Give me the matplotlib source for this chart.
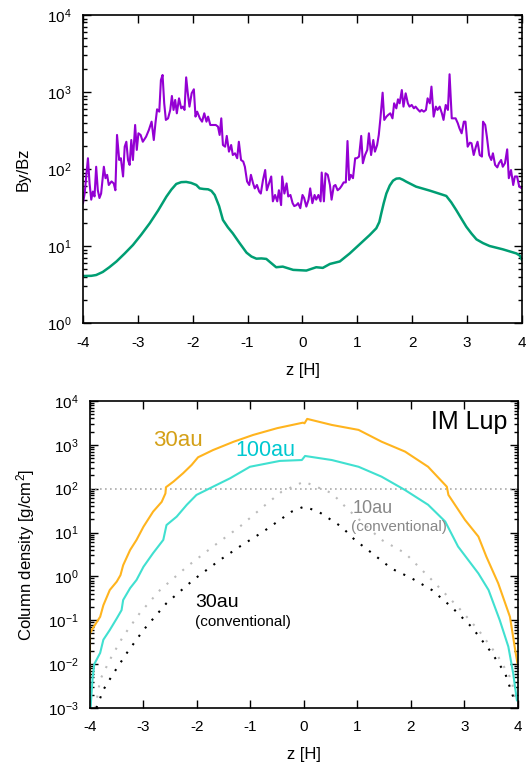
import numpy as np
import matplotlib
matplotlib.use("Agg")
import matplotlib.pyplot as plt
from matplotlib.ticker import LogLocator, FixedLocator, FuncFormatter, NullFormatter

plt.rcParams["font.family"] = ["Liberation Sans", "DejaVu Sans"]
plt.rcParams["mathtext.fontset"] = "custom"
plt.rcParams["mathtext.rm"] = "Liberation Sans"
plt.rcParams["mathtext.it"] = "Liberation Sans"
plt.rcParams["axes.unicode_minus"] = False

# top panel: By/Bz
z_by = [-4.00, -3.97, -3.94, -3.91, -3.88, -3.85, -3.82, -3.79, -3.76, -3.73, -3.70, -3.67,
        -3.62, -3.59, -3.56, -3.53, -3.48, -3.44, -3.41, -3.38, -3.34, -3.31, -3.27, -3.24,
        -3.21, -3.18, -3.15, -3.12, -3.09, -3.05, -3.02, -2.99, -2.95, -2.91, -2.85, -2.80,
        -2.75, -2.71, -2.68, -2.65, -2.61, -2.58, -2.55, -2.52, -2.49, -2.45, -2.41, -2.38,
        -2.35, -2.32, -2.29, -2.25, -2.21, -2.18, -2.15, -2.12, -2.09, -2.06, -2.02, -1.98,
        -1.95, -1.92, -1.87, -1.83, -1.79, -1.75, -1.72, -1.68, -1.63, -1.58, -1.54, -1.51,
        -1.48, -1.45, -1.41, -1.38, -1.34, -1.30, -1.27, -1.23, -1.19, -1.16, -1.12, -1.08,
        -1.05, -1.01, -0.97, -0.94, -0.90, -0.87, -0.83, -0.79, -0.76, -0.72, -0.68, -0.65,
        -0.61, -0.57, -0.54, -0.50, -0.46, -0.43, -0.39, -0.37, -0.33, -0.29, -0.26, -0.22,
        -0.18, -0.15, -0.11, -0.08, -0.04, 0.00, 0.03, 0.07, 0.11, 0.14, 0.18, 0.22,
        0.25, 0.29, 0.33, 0.35, 0.39, 0.42, 0.46, 0.50, 0.53, 0.57, 0.60, 0.64,
        0.68, 0.71, 0.75, 0.79, 0.82, 0.85, 0.88, 0.92, 0.96, 0.99, 1.03, 1.07,
        1.10, 1.14, 1.18, 1.21, 1.25, 1.29, 1.32, 1.36, 1.39, 1.42, 1.46, 1.49,
        1.53, 1.56, 1.60, 1.64, 1.67, 1.71, 1.74, 1.77, 1.81, 1.84, 1.88, 1.92,
        1.95, 1.99, 2.03, 2.06, 2.10, 2.14, 2.17, 2.21, 2.25, 2.28, 2.32, 2.35,
        2.39, 2.43, 2.46, 2.50, 2.54, 2.57, 2.61, 2.65, 2.68, 2.72, 2.76, 2.79,
        2.83, 2.86, 2.90, 2.94, 2.97, 3.01, 3.05, 3.08, 3.12, 3.16, 3.19, 3.23,
        3.27, 3.29, 3.33, 3.36, 3.40, 3.44, 3.47, 3.51, 3.55, 3.58, 3.62, 3.65,
        3.69, 3.73, 3.76, 3.80, 3.84, 3.87, 3.91, 3.95, 4.00]
by_sim = [36, 48, 80, 138, 65, 40, 51, 44, 107, 53, 42, 48,
          107, 76, 84, 62, 69, 65, 53, 277, 131, 138, 80, 195,
          226, 131, 113, 238, 131, 373, 177, 291, 277, 226, 263, 321,
          412, 238, 393, 596, 556, 1430, 1665, 713, 434, 455, 585, 888,
          585, 788, 529, 828, 614, 646, 585, 1550, 962, 646, 962, 1085,
          479, 556, 455, 412, 529, 412, 479, 373, 373, 373, 355, 277,
          455, 205, 195, 269, 168, 205, 152, 160, 138, 226, 131, 125,
          107, 69, 62, 84, 65, 56, 62, 51, 48, 72, 97, 53,
          65, 80, 38, 46, 38, 53, 34, 80, 48, 65, 44, 46,
          36, 33, 34, 36, 31, 46, 42, 32.5, 40, 56, 36, 46,
          40, 46, 38, 90, 38, 88, 84, 62, 40, 60, 62, 53,
          56, 60, 67, 67, 231, 72, 84, 76, 138, 138, 145, 269,
          119, 152, 177, 291, 152, 238, 168, 205, 277, 455, 980, 434,
          479, 503, 529, 455, 713, 614, 804, 713, 1060, 646, 962, 713,
          646, 679, 614, 646, 596, 556, 585, 556, 585, 828, 713, 1175,
          479, 646, 585, 646, 529, 434, 679, 585, 1700, 455, 455, 455,
          393, 338, 291, 412, 412, 195, 220, 216, 152, 195, 226, 152,
          145, 412, 373, 263, 152, 131, 160, 113, 105, 119, 131, 107,
          119, 180, 76, 97, 62, 80, 80, 59, 56]

z_smooth = [-4.00, -3.85, -3.76, -3.64, -3.52, -3.39, -3.24, -3.09, -2.94, -2.785, -2.63,
            -2.48, -2.39, -2.30, -2.21, -2.12, -2.03, -1.935, -1.874, -1.80, -1.72, -1.66,
            -1.60, -1.52, -1.45, -1.36, -1.27, -1.15, -1.02, -0.93, -0.84, -0.75, -0.66,
            -0.57, -0.48, -0.36, -0.17, 0.07, 0.25, 0.37, 0.50, 0.68, 0.86, 1.04, 1.225,
            1.345, 1.40, 1.436, 1.48, 1.528, 1.59, 1.65, 1.71, 1.77, 1.83, 1.89, 2.07,
            2.32, 2.53, 2.62, 2.71, 2.80, 2.89, 2.985, 3.08, 3.17, 3.29, 3.41, 3.65,
            3.90, 3.96, 4.00]
by_smooth = [4.08, 4.1, 4.2, 4.6, 5.3, 6.3, 8.0, 10.3, 14.0, 19.7, 29,
             43.8, 54, 64, 67.5, 68, 66, 62, 56, 55, 54.5, 52,
             46, 33, 21.8, 17.5, 14.6, 11, 8.2, 7.3, 6.85, 6.9, 6.8,
             6.0, 5.3, 5.4, 4.9, 4.8, 5.3, 5.2, 5.85, 6.3, 8.0, 10.5, 13.9,
             17, 20.5, 26.6, 36, 48, 61, 70.6, 75, 75.7, 72.5, 68.5, 59,
             52.4, 46.9, 44.7, 37, 29.4, 23, 17.8, 14.5, 12.2, 10.9, 10.0, 9.06,
             8.0, 7.5, 6.6]

# bottom panel: column density
z_30 = [-4.00, -4.00, -3.95, -3.81, -3.75, -3.63, -3.50, -3.43, -3.38, -3.25, -3.13, -3.00,
        -2.82, -2.66, -2.59, -2.58, -2.44, -2.26, -2.10, -1.98, -1.70, -1.32, -0.95,
        -0.50, -0.02, 0.01, 0.06, 0.52, 1.02, 1.45, 1.89, 2.32, 2.67, 2.70, 3.01, 3.26,
        3.41, 3.63, 3.85, 3.957, 3.99]
col_30 = [0.0056, 0.05, 0.065, 0.12, 0.22, 0.49, 0.76, 1.07, 1.8, 4.0, 6.8, 13.6,
          30, 50, 78, 108, 145, 225, 348, 520, 760, 1170, 1680,
          2400, 3200, 3100, 3900, 2840, 2190, 1180, 700, 316, 111, 72, 19.4, 8.1,
          2.8, 0.70, 0.12, 0.018, 0.0105]

z_100 = [-3.99, -3.95, -3.92, -3.81, -3.75, -3.63, -3.50, -3.41, -3.38, -3.25, -3.13, -3.00,
         -2.82, -2.63, -2.57, -2.38, -2.19, -2.01, -1.70, -1.38, -1.01, -0.45, -0.04,
         0.02, 0.52, 1.02, 1.45, 1.89, 2.32, 2.64, 2.88, 3.26, 3.45, 3.66, 3.82, 3.91, 3.98]
col_100 = [0.001, 0.005, 0.01, 0.018, 0.036, 0.06, 0.11, 0.17, 0.29, 0.54, 0.83, 1.66,
           3.4, 6.8, 14.8, 23, 43, 72, 111, 173, 316, 430, 450,
           557, 450, 316, 188, 93, 43, 17.8, 4.8, 1.17, 0.49, 0.10, 0.025, 0.0062, 0.0015]

z_10c = [-3.90, -3.81, -3.63, -3.38, -3.07, -2.69, -2.19, -1.70, -1.20, -0.76, -0.42, 0.00,
         0.52, 0.83, 1.45, 1.89, 2.39, 2.88, 3.26, 3.63, 3.88, 3.96]
col_10c = [0.001, 0.0044, 0.0125, 0.043, 0.145, 0.49, 1.66, 4.8, 13.6, 39, 85, 145,
           79, 33, 6.8, 3.4, 0.83, 0.2, 0.06, 0.0148, 0.0044, 0.0013]

z_30c = [-3.88, -3.75, -3.56, -3.31, -3.00, -2.57, -2.07, -1.57, -1.20, -0.76, -0.23, 0.00,
         0.27, 0.70, 0.95, 1.27, 1.64, 2.01, 2.39, 2.76, 3.13, 3.51, 3.76, 3.91]
col_30c = [0.001, 0.0026, 0.0062, 0.018, 0.06, 0.245, 0.83, 2.37, 4.8, 10.5, 30, 39,
           30, 13.6, 6.8, 3.4, 1.5, 0.91, 0.49, 0.2, 0.071, 0.018, 0.0062, 0.0018]

z_ticks = [-4, -3, -2, -1, 0, 1, 2, 3, 4]


def pow_fmt(v, pos):
    return r"$10^{%d}$" % int(round(np.log10(v)))


def style_ax(ax, lo, hi):
    ax.set_yscale("log")
    ax.set_xlim(-4, 4)
    ax.set_ylim(lo, hi)
    ax.xaxis.set_major_locator(FixedLocator(z_ticks))
    ax.set_xticklabels([str(t) for t in z_ticks])
    ax.yaxis.set_major_locator(LogLocator(base=10, numticks=20))
    ax.yaxis.set_minor_locator(LogLocator(base=10, subs=np.arange(2, 10), numticks=20))
    ax.yaxis.set_major_formatter(FuncFormatter(pow_fmt))
    ax.yaxis.set_minor_formatter(NullFormatter())
    ax.tick_params(which="both", direction="in", top=True, right=True, width=1, labelsize=11)
    ax.tick_params(which="major", length=6)
    ax.tick_params(which="minor", length=3)
    ax.tick_params(axis="x", pad=9)
    ax.tick_params(axis="y", pad=8)
    for s in ax.spines.values():
        s.set_linewidth(1.2)
    ax.set_xlabel("z [H]", fontsize=12, labelpad=10)


fig = plt.figure(figsize=(5.3, 7.62), dpi=100)
ax1 = fig.add_axes([0.1566, 0.5761, 0.8283, 0.4042])
ax2 = fig.add_axes([0.1698, 0.0709, 0.8075, 0.4029])

style_ax(ax1, 1, 1e4)
ax1.plot(z_by, by_sim, color="#9400d3", lw=1.5)
ax1.plot(z_smooth, by_smooth, color="#009e73", lw=1.8)
ax1.set_ylabel("By/Bz", fontsize=12, labelpad=12)

style_ax(ax2, 1e-3, 1e4)
ax2.xaxis.labelpad = 9
ax2.axhline(100, color="#aaaaaa", lw=1.2, ls=(0, (1, 2)))
ax2.plot(z_10c, col_10c, color="#bbbbbb", lw=1.5, ls=(0, (1, 4)))
ax2.plot(z_30c, col_30c, color="black", lw=1.5, ls=(0, (1, 4)))
ax2.plot(z_100, col_100, color="#40e0d0", lw=1.5)
ax2.plot(z_30, col_30, color="#ffb41e", lw=1.5)
ax2.set_ylabel("Column density [g/cm$^2$]", fontsize=12, labelpad=8)

ax2.text(-2.36, 1230, "30au", color="#d4a017", fontsize=16, ha="center", va="center")
ax2.text(-0.73, 725, "100au", color="#00c8d0", fontsize=15.5, ha="center", va="center")
ax2.text(3.81, 3400, "IM Lup", color="black", fontsize=18, ha="right", va="center")
ax2.text(0.9, 36, "10au", color="#888888", fontsize=13, ha="left", va="center")
ax2.text(0.88, 13.5, "(conventional)", color="#888888", fontsize=11, ha="left", va="center")
ax2.text(-2.04, 0.25, "30au", color="black", fontsize=14, ha="left", va="center")
ax2.text(-2.04, 0.091, "(conventional)", color="black", fontsize=11, ha="left", va="center")

fig.savefig("out.png", dpi=100)
